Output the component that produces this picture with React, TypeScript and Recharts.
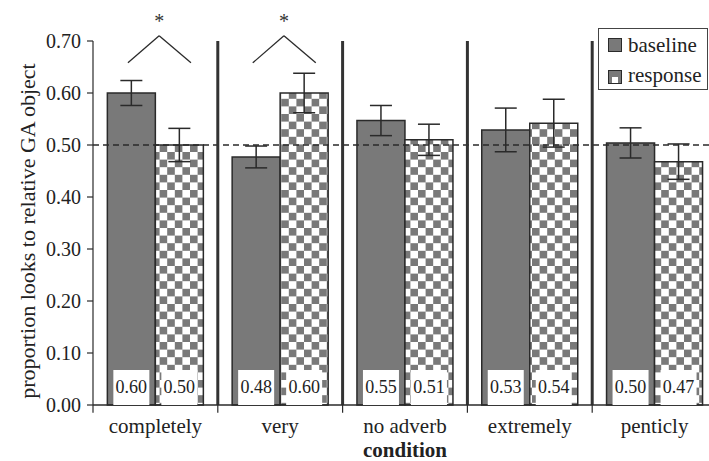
import React from 'react';
import { BarChart, Bar, XAxis, YAxis, ErrorBar, LabelList, ReferenceLine, ReferenceDot, Legend } from 'recharts';

const categories = ['completely', 'very', 'no adverb', 'extremely', 'penticly'];
const baselineValues = [0.6, 0.477, 0.547, 0.529, 0.504];
const responseValues = [0.5, 0.6, 0.51, 0.542, 0.468];
const baselineErrors = [0.024, 0.021, 0.029, 0.042, 0.029];
const responseErrors = [0.032, 0.038, 0.03, 0.046, 0.034];
const yTicks = [0, 0.1, 0.2, 0.3, 0.4, 0.5, 0.6, 0.7];
const significant = [0, 1];

const font = '"Liberation Serif", "Times New Roman", serif';
const ink = '#2a2a2a';
const gray = '#797979';
const cell = 7.6;

// pos = centre of each category on a 0..n numeric axis, used for separators and brackets
const data = categories.map((name, i) => ({
    name,
    pos: i + 0.5,
    baseline: baselineValues[i],
    response: responseValues[i],
    baselineErr: baselineErrors[i],
    responseErr: responseErrors[i],
}));

const CategoryTick = ({ x, y, payload }: any) => (
    <text x={x} y={y + 28} textAnchor="middle" fontFamily={font} fontSize={21} fill="#222">
        {payload.value}
    </text>
);

const ValueBox = ({ x, y, width, height, value }: any) => {
    const cx = x + width / 2;
    const bottom = y + height;
    return (
        <g>
            <rect x={cx - 18} y={bottom - 35} width={36} height={35} fill="#fff" />
            <text x={cx} y={bottom - 12} textAnchor="middle" fontFamily={font} fontSize={18} fill="#222">
                {Number(value).toFixed(2)}
            </text>
        </g>
    );
};

const YLabel = ({ viewBox }: any) => {
    const cy = viewBox.y + viewBox.height / 2 + 8;
    return (
        <text transform={`translate(35, ${cy}) rotate(-90)`} textAnchor="middle" fontFamily={font} fontSize={22} fill="#222">
            proportion looks to relative GA object
        </text>
    );
};

const LegendBox = () => (
    <svg width={110} height={62} style={{ display: 'block' }}>
        <rect x={0.5} y={0.5} width={109} height={61} fill="#fff" stroke="#444" />
        <rect x={10.5} y={10.5} width={13} height={13} fill={gray} stroke={ink} />
        <text x={30} y={23.5} fontFamily={font} fontSize={21} fill="#222">baseline</text>
        <rect x={10.5} y={42.5} width={13} height={13} fill="#fff" stroke={ink} />
        <rect x={11} y={43} width={12} height={6} fill={gray} />
        <rect x={11} y={49} width={3} height={6} fill={gray} />
        <rect x={20} y={49} width={3} height={6} fill={gray} />
        <text x={30} y={54} fontFamily={font} fontSize={21} fill="#222">response</text>
    </svg>
);

export default function App() {
    return (
        <div style={{ position: 'absolute', left: 0, top: 0, width: 709, height: 461, overflow: 'hidden', background: '#fff' }}>
            <BarChart width={730} height={461} data={data} margin={{ top: 41, right: 13, left: 0, bottom: 0 }} barCategoryGap="11.5%" barGap={0}>
                <defs>
                    <pattern id="checker" width={cell * 2} height={cell * 2} patternUnits="userSpaceOnUse">
                        <rect width={cell * 2} height={cell * 2} fill="#fff" />
                        <rect width={cell} height={cell} fill={gray} />
                        <rect x={cell} y={cell} width={cell} height={cell} fill={gray} />
                    </pattern>
                </defs>
                <XAxis
                    dataKey="name"
                    height={56}
                    interval={0}
                    tickSize={0}
                    tickMargin={0}
                    tickLine={false}
                    axisLine={{ stroke: ink, strokeWidth: 1.5 }}
                    tick={<CategoryTick />}
                    label={{ value: 'condition', position: 'insideBottom', offset: 4, style: { fontFamily: font, fontSize: 21, fontWeight: 'bold', fill: '#222' } }}
                />
                <XAxis xAxisId="pos" dataKey="pos" type="number" domain={[0, categories.length]} allowDataOverflow hide />
                <YAxis
                    width={93}
                    domain={[0, 0.7]}
                    ticks={yTicks}
                    interval={0}
                    tickFormatter={(v: number) => v.toFixed(2)}
                    tickSize={6}
                    tickMargin={6}
                    axisLine={{ stroke: ink, strokeWidth: 1.2 }}
                    tickLine={{ stroke: ink, strokeWidth: 1.2 }}
                    tick={{ fontFamily: font, fontSize: 20, fill: '#222' }}
                    label={<YLabel />}
                />
                <Bar dataKey="baseline" fill={gray} stroke={ink} strokeWidth={1.5} isAnimationActive={false}>
                    <ErrorBar dataKey="baselineErr" width={11} stroke={ink} strokeWidth={1.5} />
                    <LabelList dataKey="baseline" content={<ValueBox />} />
                </Bar>
                <Bar dataKey="response" fill="url(#checker)" stroke={ink} strokeWidth={1.5} isAnimationActive={false}>
                    <ErrorBar dataKey="responseErr" width={11} stroke={ink} strokeWidth={1.5} />
                    <LabelList dataKey="response" content={<ValueBox />} />
                </Bar>
                <ReferenceLine y={0.5} stroke={ink} strokeWidth={1.3} strokeDasharray="6 4" />
                {[0, 1, 2, 3, 4, 5].map((i) => (
                    <ReferenceLine key={`tick-${i}`} xAxisId="pos" ifOverflow="visible" stroke={ink} strokeWidth={1.2}
                        segment={[{ x: i, y: 0 }, { x: i, y: -0.015 }]} />
                ))}
                {[1, 2, 3, 4].map((i) => (
                    <ReferenceLine key={`sep-${i}`} xAxisId="pos" ifOverflow="visible" stroke="#333" strokeWidth={3}
                        segment={[{ x: i, y: 0 }, { x: i, y: 0.7 }]} />
                ))}
                {significant.map((i) => (
                    <ReferenceLine key={`bl-${i}`} xAxisId="pos" ifOverflow="visible" stroke={ink} strokeWidth={1.3}
                        segment={[{ x: i + 0.28, y: 0.658 }, { x: i + 0.53, y: 0.71 }]} />
                ))}
                {significant.map((i) => (
                    <ReferenceLine key={`br-${i}`} xAxisId="pos" ifOverflow="visible" stroke={ink} strokeWidth={1.3}
                        segment={[{ x: i + 0.53, y: 0.71 }, { x: i + 0.785, y: 0.658 }]} />
                ))}
                {significant.map((i) => (
                    <ReferenceDot key={`star-${i}`} xAxisId="pos" x={i + 0.53} y={0.738} r={0} ifOverflow="visible" fill="none" stroke="none"
                        label={{ value: '*', position: 'center', fontFamily: font, fontSize: 20, fill: '#333' }} />
                ))}
                <Legend layout="horizontal" verticalAlign="middle" content={<LegendBox />}
                    wrapperStyle={{ position: 'absolute', left: 598, top: 28, width: 110, height: 62 }} />
            </BarChart>
        </div>
    );
}
